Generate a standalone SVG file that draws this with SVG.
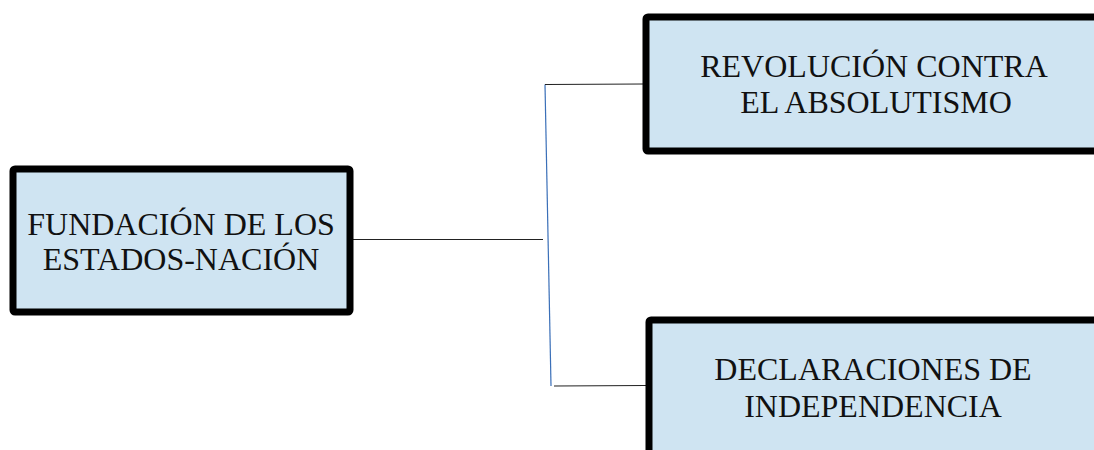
<svg xmlns="http://www.w3.org/2000/svg" width="1094" height="450" viewBox="0 0 1094 450">
<style>
.box{fill:#cfe4f2;stroke:#000;stroke-width:7;stroke-linejoin:round}
.t{font-family:"Liberation Serif","Times New Roman",serif;font-size:32px;fill:#111;text-anchor:middle}
.c{fill:none;stroke:#222;stroke-width:1.2}
</style>
<rect width="1094" height="450" fill="#fff"/>
<g id="connectors">
<line class="c" x1="353" y1="239.5" x2="543" y2="239.5"/>
<line x1="545" y1="84.5" x2="551" y2="386" stroke="#3a6fb8" stroke-width="1.2"/>
<line class="c" x1="545" y1="84.5" x2="643" y2="84"/>
<line class="c" x1="554" y1="386" x2="646" y2="385.5"/>
</g>
<g id="node-fundacion">
<rect class="box" x="13" y="169" width="337" height="143" rx="2"/>
<text class="t" x="181" y="235">FUNDACIÓN DE LOS</text>
<text class="t" x="181" y="270">ESTADOS-NACIÓN</text>
</g>
<g id="node-revolucion">
<rect class="box" x="646" y="17" width="460" height="134" rx="2"/>
<text class="t" x="874" y="77">REVOLUCIÓN CONTRA</text>
<text class="t" x="876" y="113">EL ABSOLUTISMO</text>
</g>
<g id="node-declaraciones">
<rect class="box" x="649" y="320" width="460" height="150" rx="2"/>
<text class="t" x="873" y="380">DECLARACIONES DE</text>
<text class="t" x="873" y="417">INDEPENDENCIA</text>
</g>
</svg>
